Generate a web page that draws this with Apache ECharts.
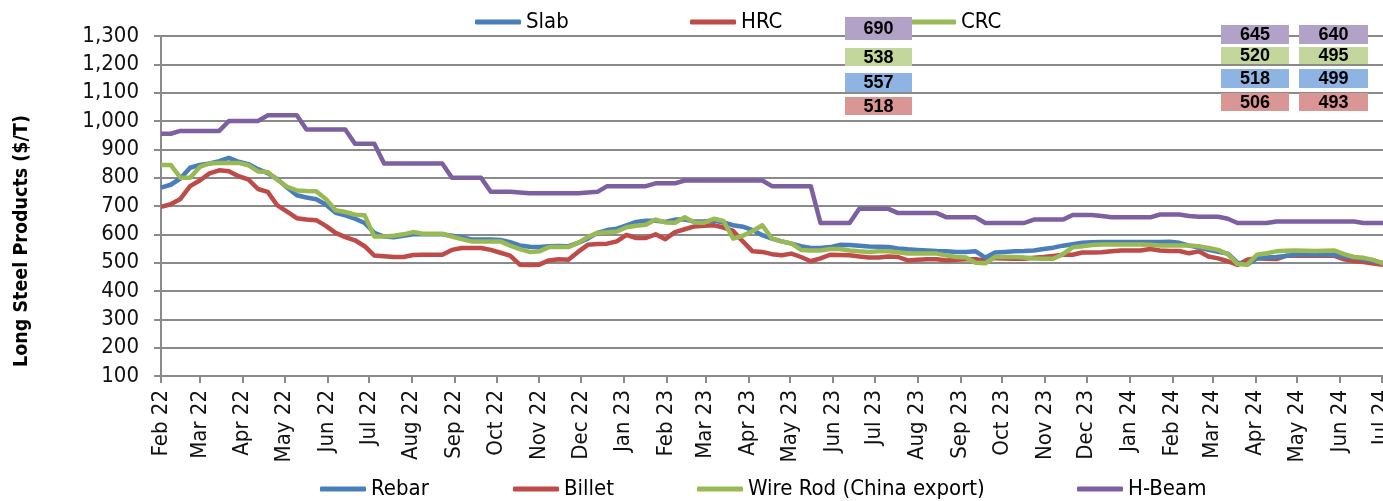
<!DOCTYPE html>
<html>
<head>
<meta charset="utf-8">
<script src="https://cdn.jsdelivr.net/npm/echarts@6/dist/echarts.min.js"></script>
<style>
html,body{margin:0;padding:0;background:#fff;}
#chart{width:1383px;height:501px;}
</style>
</head>
<body>
<div id="chart"></div>
<script>
// ---- data ----
var startYear = 2022, startMonth = 1, startDay = 1; // first weekly observation (Feb 1 2022)
var weekCount = 127;

var rebar = [
 765,775,797,835,845,850,858,870,856,848,
 830,816,795,765,738,730,724,705,676,667,
 655,640,605,592,590,595,600,600,600,600,
 595,590,582,582,582,580,572,561,556,555,
 558,559,558,570,585,605,615,620,632,644,
 648,648,644,652,652,645,645,649,642,632,
 627,615,597,585,575,567,558,552,552,555,
 563,562,560,557,556,555,550,547,545,543,
 541,540,538,538,540,518,536,538,540,541,
 543,548,553,560,565,570,572,573,573,573,
 573,573,573,573,574,570,560,553,545,538,
 532,500,493,515,518,520,524,528,528,528,
 528,528,522,518,512,506,499
];
var billet = [
 697,706,725,770,790,815,826,823,805,794,
 760,750,702,680,657,652,650,630,605,590,
 579,558,525,523,520,520,527,528,528,528,
 545,552,552,552,545,535,525,493,492,493,
 508,512,510,538,563,566,567,575,598,587,
 587,600,583,608,618,628,630,632,624,612,
 575,540,538,530,526,532,520,505,515,528,
 527,526,522,518,518,522,520,508,510,512,
 512,508,510,512,512,508,516,515,514,514,
 517,520,524,528,528,536,536,537,540,543,
 543,543,548,543,541,541,533,540,522,515,
 505,492,510,516,514,513,524,524,524,524,
 524,524,512,506,502,497,493
];
var wireRod = [
 845,845,800,800,838,850,852,852,852,844,
 822,820,792,768,755,753,752,725,685,679,
 669,667,592,592,595,600,608,602,602,602,
 592,583,575,575,575,575,560,548,538,540,
 555,555,555,570,590,605,607,610,625,630,
 634,652,642,641,660,642,641,655,647,585,
 595,612,632,585,575,568,545,543,543,548,
 548,543,540,538,540,540,537,532,532,532,
 532,525,520,518,500,498,520,520,520,518,
 515,514,514,530,554,558,562,564,564,564,
 564,564,563,561,561,561,561,558,552,545,
 530,495,493,528,533,540,542,543,542,541,
 542,543,530,520,517,510,497
];
var hBeam = [
 955,955,965,965,965,965,965,1000,1000,1000,
 1000,1020,1020,1020,1020,970,970,970,970,970,
 920,920,920,850,850,850,850,850,850,850,
 800,800,800,800,750,750,750,748,745,745,
 745,745,745,745,748,750,770,770,770,770,
 770,780,780,780,790,790,790,790,790,790,
 790,790,790,770,770,770,770,770,640,640,
 640,640,690,690,690,690,675,675,675,675,
 675,660,660,660,660,640,640,640,640,640,
 652,652,652,652,668,668,668,665,660,660,
 660,660,660,670,670,670,665,662,662,662,
 655,640,640,640,640,645,645,645,645,645,
 645,645,645,645,640,640,640
];

var monthNames = ['Jan','Feb','Mar','Apr','May','Jun','Jul','Aug','Sep','Oct','Nov','Dec'];
var yTicks = [100,200,300,400,500,600,700,800,900,1000,1100,1200,1300];

// annotation boxes (H-Beam, Wire Rod, Rebar, Billet)
var boxJul23 = [690, 538, 557, 518];
var boxJun24 = [645, 520, 518, 506];
var boxLatest = [640, 495, 499, 493];

var topLegendNames = ['Slab', 'HRC', 'CRC'];
var seriesNames = ['Rebar', 'Billet', 'Wire Rod (China export)', 'H-Beam'];

// ---- build ----
var dates = [];
for (var i = 0; i < weekCount; i++) {
  dates.push(new Date(startYear, startMonth, startDay + 7 * i).getTime());
}
function pairs(vals) { return vals.map(function (v, i) { return [dates[i], v]; }); }

var monthTicks = [];
for (var y = 2022, m = 1; y < 2024 || (y === 2024 && m <= 6); ) {
  monthTicks.push(new Date(y, m, 1).getTime());
  m++; if (m > 11) { m = 0; y++; }
}

var C = { blue: '#4A7EBB', red: '#BE4B48', green: '#98B954', purple: '#7D60A0' };
var BOX = ['#B3A2C7', '#C3D69B', '#8DB4E2', '#DA9694'];
var FONT = "Tahoma, 'DejaVu Sans Condensed', 'DejaVu Sans', sans-serif";
var GRID = '#8a8a8a';

function lineSeries(name, data, color) {
  return { name: name, type: 'line', data: data, symbol: 'none', color: color,
           lineStyle: { width: 4.5, color: color, join: 'round' }, animation: false };
}

function boxGroup(vals, left, rows, width) {
  var els = [];
  for (var k = 0; k < vals.length; k++) {
    els.push({ type: 'rect', shape: { x: left, y: rows[k][0], width: width, height: rows[k][1] },
               style: { fill: BOX[k] }, z: 100 });
    els.push({ type: 'text', x: left + width / 2, y: rows[k][0] + rows[k][1] / 2 + 1, z: 101,
               style: { text: String(vals[k]), fill: '#000', font: "bold 18px 'Liberation Sans', Arial, sans-serif",
                        textAlign: 'center', textVerticalAlign: 'middle' } });
  }
  return els;
}

var rows1 = [[17, 23], [48, 18], [73, 19], [97, 18]];
var rows2 = [[25, 19], [47, 17], [69, 19], [93, 18]];

function legendItem(name, left, top) {
  return { data: [name], left: left, top: top, icon: 'roundRect', itemWidth: 46, itemHeight: 5,
           itemGap: 0, padding: 0, selectedMode: false,
           textStyle: { fontSize: 22, color: '#000', fontFamily: FONT } };
}

var option = {
  backgroundColor: '#fff',
  animation: false,
  grid: { left: 161, right: 0, top: 36, bottom: 125, containLabel: false, outerBoundsMode: 'none' },
  legend: [
    legendItem('Slab', 475, 11), legendItem('HRC', 690, 11), legendItem('CRC', 910, 11),
    legendItem('Rebar', 320, 478), legendItem('Billet', 513, 478),
    legendItem('Wire Rod (China export)', 697, 478), legendItem('H-Beam', 1077, 478)
  ],
  xAxis: {
    type: 'value',
    min: dates[0], max: dates[dates.length - 1],
    axisLine: { show: true, lineStyle: { color: GRID, width: 2 } },
    axisTick: { show: true, length: 7, lineStyle: { color: GRID, width: 2 }, customValues: monthTicks },
    splitLine: { show: false },
    axisLabel: {
      customValues: monthTicks, rotate: 90, margin: 14, fontSize: 22, color: '#111', fontFamily: FONT,
      hideOverlap: false, showMinLabel: true, showMaxLabel: true,
      formatter: function (v) { var d = new Date(v); return monthNames[d.getMonth()] + ' ' + String(d.getFullYear()).slice(2); }
    }
  },
  yAxis: {
    type: 'value', min: yTicks[0], max: yTicks[yTicks.length - 1], interval: 100,
    axisLine: { show: true, lineStyle: { color: GRID, width: 2 } },
    axisTick: { show: true, length: 7, lineStyle: { color: GRID, width: 2 } },
    splitLine: { show: true, lineStyle: { color: GRID, width: 2 } },
    axisLabel: { margin: 22, fontSize: 22, color: '#111', fontFamily: FONT,
                 formatter: function (v) { return v.toLocaleString('en-US'); } }
  },
  graphic: [
    { type: 'text', x: 22, y: 241, rotation: Math.PI / 2, z: 50,
      style: { text: 'Long Steel Products ($/T)', fill: '#000', font: "bold 19.5px " + FONT,
               textAlign: 'center', textVerticalAlign: 'middle' } }
  ].concat(boxGroup(boxJul23, 845, rows1, 67))
   .concat(boxGroup(boxJun24, 1221, rows2, 68))
   .concat(boxGroup(boxLatest, 1299, rows2, 69)),
  series: [
    lineSeries(topLegendNames[0], [], C.blue),
    lineSeries(topLegendNames[1], [], C.red),
    lineSeries(topLegendNames[2], [], C.green),
    lineSeries(seriesNames[3], pairs(hBeam), C.purple),
    lineSeries(seriesNames[1], pairs(billet), C.red),
    lineSeries(seriesNames[0], pairs(rebar), C.blue),
    lineSeries(seriesNames[2], pairs(wireRod), C.green)
  ]
};

var chart = echarts.init(document.getElementById('chart'), null, { renderer: 'canvas' });
chart.setOption(option);
</script>
</body>
</html>
